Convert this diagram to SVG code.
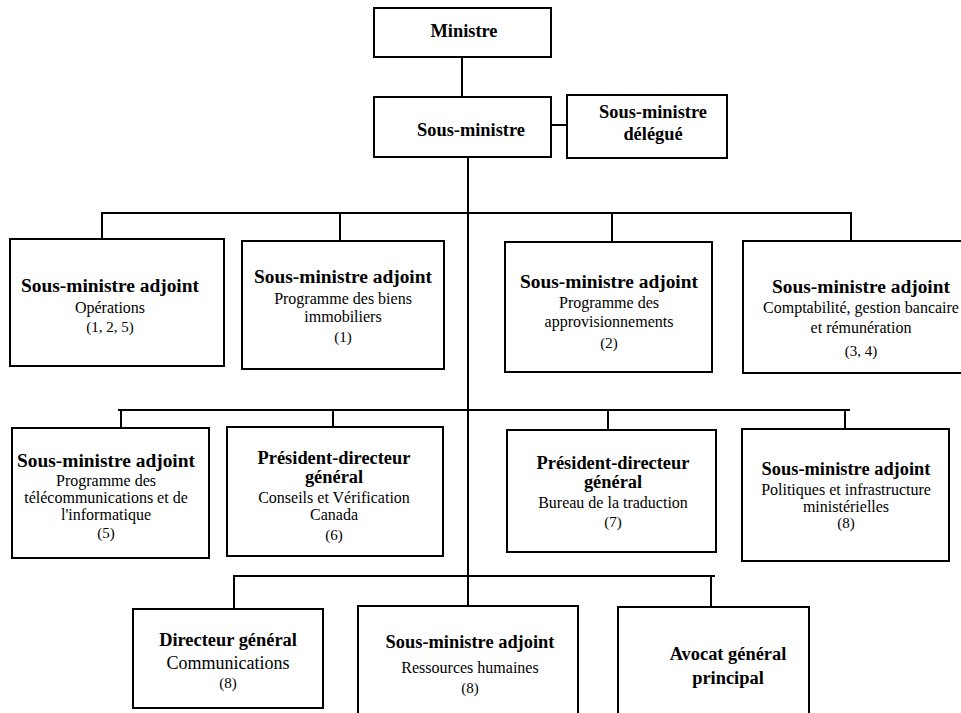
<svg xmlns="http://www.w3.org/2000/svg" width="961" height="713" viewBox="0 0 961 713">
<style>
rect{fill:#fff;stroke:#000;stroke-width:2}
.c line{stroke:#000;stroke-width:2}
text{font-family:"Liberation Serif","Times New Roman",serif;fill:#000;text-anchor:middle}
.b{font-weight:bold;font-size:18.4px}
.B{font-weight:bold;font-size:19.4px}
.r{font-size:16px}
.n{font-size:15px}
</style>
<rect x="0" y="0" width="961" height="713" style="stroke:none"/>
<g class="c" id="connectors">
<line x1="462" y1="57" x2="462" y2="97"/>
<line x1="551" y1="125" x2="567" y2="125"/>
<line x1="468" y1="157" x2="468" y2="606"/>
<line x1="101" y1="213" x2="852" y2="213"/>
<line x1="102" y1="212" x2="102" y2="239"/>
<line x1="340" y1="212" x2="340" y2="241"/>
<line x1="612" y1="212" x2="612" y2="242"/>
<line x1="851" y1="212" x2="851" y2="241"/>
<line x1="118" y1="410" x2="850" y2="410"/>
<line x1="121" y1="409" x2="121" y2="428"/>
<line x1="333" y1="409" x2="333" y2="427"/>
<line x1="608" y1="409" x2="608" y2="430"/>
<line x1="845" y1="409" x2="845" y2="429"/>
<line x1="233" y1="576" x2="715" y2="576"/>
<line x1="234" y1="575" x2="234" y2="609"/>
<line x1="711" y1="575" x2="711" y2="607"/>
</g>
<g id="ministre"><rect x="374" y="8" width="177" height="49"/><text class="b" x="464" y="37">Ministre</text></g>
<g id="sous-ministre"><rect x="374" y="97" width="177" height="60"/><text class="b" x="471" y="136">Sous-ministre</text></g>
<g id="delegue"><rect x="567" y="95" width="160" height="63"/><text class="b" x="653" y="118">Sous-ministre</text><text class="b" x="653" y="140">délégué</text></g>
<g id="operations"><rect x="10" y="239" width="214" height="127"/><text class="B" x="110" y="292">Sous-ministre adjoint</text><text class="r" x="110" y="313">Opérations</text><text class="n" x="110" y="332">(1, 2, 5)</text></g>
<g id="biens"><rect x="242" y="241" width="202" height="128"/><text class="B" x="343" y="283">Sous-ministre adjoint</text><text class="r" x="343" y="304">Programme des biens</text><text class="r" x="343" y="322">immobiliers</text><text class="n" x="343" y="342">(1)</text></g>
<g id="approvisionnements"><rect x="505" y="242" width="207" height="130"/><text class="B" x="609" y="288">Sous-ministre adjoint</text><text class="r" x="609" y="308">Programme des</text><text class="r" x="609" y="327">approvisionnements</text><text class="n" x="609" y="348">(2)</text></g>
<g id="comptabilite"><rect x="743" y="241" width="232" height="132"/><text class="B" x="861" y="293">Sous-ministre adjoint</text><text class="r" x="861" y="313">Comptabilité, gestion bancaire</text><text class="r" x="861" y="333">et rémunération</text><text class="n" x="861" y="356">(3, 4)</text></g>
<g id="telecom"><rect x="12" y="428" width="197" height="130"/><text class="B" x="106" y="467">Sous-ministre adjoint</text><text class="r" x="106" y="486">Programme des</text><text class="r" x="106" y="503">télécommunications et de</text><text class="r" x="106" y="520">l'informatique</text><text class="n" x="106" y="538">(5)</text></g>
<g id="cvc"><rect x="227" y="427" width="216" height="129"/><text class="b" x="334" y="464">Président-directeur</text><text class="b" x="334" y="483">général</text><text class="r" x="334" y="503">Conseils et Vérification</text><text class="r" x="334" y="520">Canada</text><text class="n" x="334" y="540">(6)</text></g>
<g id="traduction"><rect x="507" y="430" width="209" height="122"/><text class="b" x="613" y="469">Président-directeur</text><text class="b" x="613" y="488">général</text><text class="r" x="613" y="508">Bureau de la traduction</text><text class="n" x="613" y="527">(7)</text></g>
<g id="politiques"><rect x="742" y="429" width="207" height="132"/><text class="b" x="846" y="475">Sous-ministre adjoint</text><text class="r" x="846" y="495">Politiques et infrastructure</text><text class="r" x="846" y="512">ministérielles</text><text class="n" x="846" y="528">(8)</text></g>
<g id="communications"><rect x="133" y="609" width="190" height="99"/><text class="b" x="228" y="646">Directeur général</text><text x="228" y="669" style="font-size:18px">Communications</text><text class="n" x="228" y="688">(8)</text></g>
<g id="rh"><rect x="358" y="606" width="220" height="115"/><text class="b" x="470" y="648">Sous-ministre adjoint</text><text class="r" x="470" y="673">Ressources humaines</text><text class="n" x="470" y="693">(8)</text></g>
<g id="avocat"><rect x="618" y="607" width="191" height="115"/><text class="b" x="728" y="660">Avocat général</text><text class="b" x="728" y="684">principal</text></g>
</svg>
